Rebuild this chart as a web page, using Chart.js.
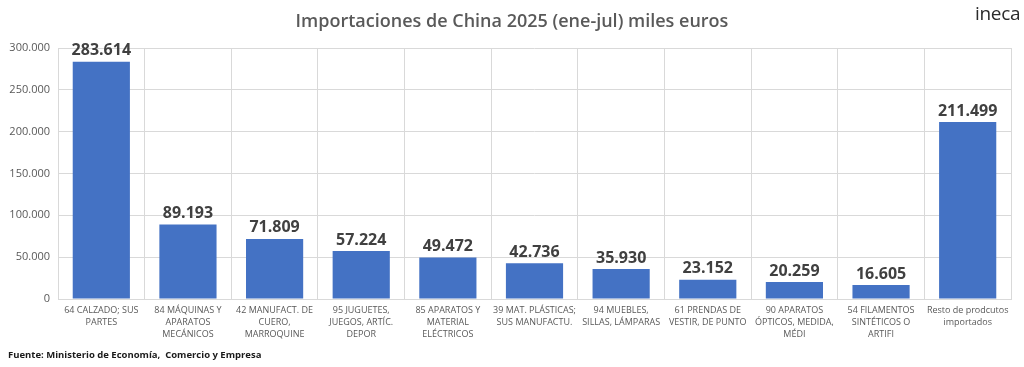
<!DOCTYPE html>
<html><head><meta charset="utf-8">
<script src="https://cdn.jsdelivr.net/npm/chart.js@4"></script>
<style>
html,body{margin:0;padding:0;background:#fff;width:1024px;height:367px;overflow:hidden;font-family:Lato,"Open Sans",sans-serif;}
#wrap{position:absolute;left:0;top:0;width:1024px;height:367px;}
#title{position:absolute;left:0;top:8px;width:1024px;text-align:center;font-family:"Open Sans",sans-serif;font-weight:600;font-size:18px;color:#595959;}
#logo{position:absolute;left:975px;top:0px;font-family:"Open Sans",sans-serif;font-size:19px;color:#2b2b2b;letter-spacing:-0.3px;}
#src{position:absolute;left:8px;top:348px;font-family:"Open Sans",sans-serif;font-weight:700;font-size:9.5px;color:#1a1a1a;}
</style></head>
<body>
<div id="wrap"><canvas id="c" width="1024" height="367"></canvas></div>
<div id="title">Importaciones de China 2025 (ene-jul) miles euros</div>
<div id="logo">ineca</div>
<div id="src">Fuente: Ministerio de Economía,&nbsp; Comercio y Empresa</div>
<script>
const categories = [
  ["64 CALZADO; SUS","PARTES"],
  ["84 MÁQUINAS Y","APARATOS","MECÁNICOS"],
  ["42 MANUFACT. DE","CUERO,","MARROQUINE"],
  ["95 JUGUETES,","JUEGOS, ARTÍC.","DEPOR"],
  ["85 APARATOS Y","MATERIAL","ELÉCTRICOS"],
  ["39 MAT. PLÁSTICAS;","SUS MANUFACTU."],
  ["94 MUEBLES,","SILLAS, LÁMPARAS"],
  ["61 PRENDAS DE","VESTIR, DE PUNTO"],
  ["90 APARATOS","ÓPTICOS, MEDIDA,","MÉDI"],
  ["54 FILAMENTOS","SINTÉTICOS O","ARTIFI"],
  ["Resto de prodcutos","importados"]
];
const importaciones = [283614, 89193, 71809, 57224, 49472, 42736, 35930, 23152, 20259, 16605, 211499];
const yTicks = [0, 50000, 100000, 150000, 200000, 250000, 300000];

function fmt(v){ return v.toString().replace(/\B(?=(\d{3})+(?!\d))/g, "."); }

const labelPlugin = {
  id:'vlabels',
  afterDatasetsDraw(chart){
    const ctx = chart.ctx;
    const meta = chart.getDatasetMeta(0);
    ctx.save();
    ctx.font = 'bold 16px "Open Sans", sans-serif';
    ctx.fillStyle = '#404040';
    ctx.textAlign = 'center';
    ctx.textBaseline = 'bottom';
    meta.data.forEach((bar,i)=>{
      ctx.fillText(fmt(importaciones[i]), bar.x, bar.y - 3);
    });
    ctx.restore();
  }
};

new Chart(document.getElementById('c'), {
  type:'bar',
  data:{ labels: categories, datasets:[{ data: importaciones, backgroundColor:'#4472C4', borderWidth:0, categoryPercentage:1, barPercentage:0.66 }]},
  options:{
    responsive:false, animation:false,
    layout:{ padding:{ left:0, top:48, right:13, bottom:14 } },
    plugins:{ legend:{display:false}, tooltip:{enabled:false} },
    scales:{
      x:{
        offset:true,
        grid:{ color:'#D9D9D9', offset:true, drawTicks:false },
        border:{ color:'#D9D9D9' },
        ticks:{ autoSkip:false, maxRotation:0, minRotation:0, color:'#595959', padding:6,
          font:{ family:'"Open Sans", sans-serif', size:9, lineHeight:1.3 } },
        afterFit(s){ s.height = 54; }
      },
      y:{
        min:0, max:300000,
        afterBuildTicks(s){ s.ticks = yTicks.map(v=>({value:v})); },
        grid:{ color:'#D9D9D9', drawTicks:false },
        border:{ display:false },
        ticks:{ color:'#595959', padding:8, callback:v=>fmt(v),
          font:{ family:'"Open Sans", sans-serif', size:11 } },
        afterFit(s){ s.width = 58; }
      }
    }
  },
  plugins:[labelPlugin]
});
</script>
</body></html>
